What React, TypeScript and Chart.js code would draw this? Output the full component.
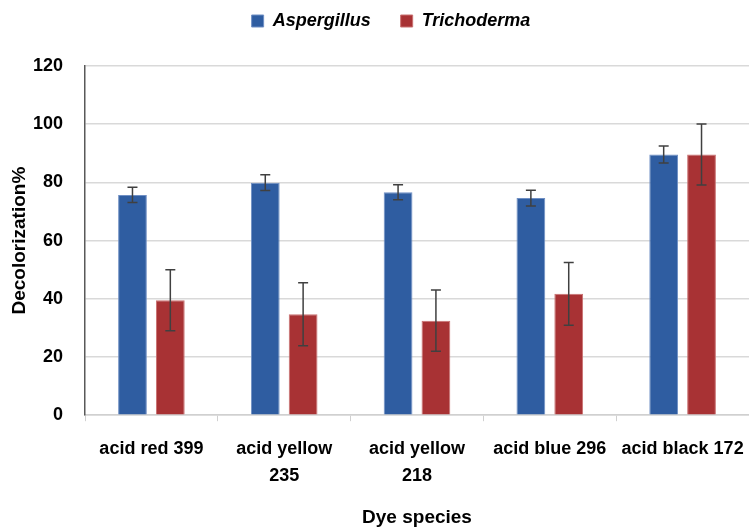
import React, { useEffect, useRef } from "react";
import { Chart, registerables } from "chart.js";

Chart.register(...registerables);

const categories: (string | string[])[] = [
  "acid red 399",
  ["acid yellow", "235"],
  ["acid yellow", "218"],
  "acid blue 296",
  "acid black 172",
];
const aspergillus = [75.7, 79.9, 76.6, 74.6, 89.6];
const aspergillusErr = [2.6, 2.7, 2.6, 2.7, 2.9];
const trichoderma = [39.5, 34.7, 32.5, 41.7, 89.6];
const trichodermaErr = [10.5, 10.8, 10.5, 10.8, 10.5];
const yTicks = [0, 20, 40, 60, 80, 100, 120];

const FONT = "'Liberation Sans', Arial, sans-serif";

const errorBarPlugin = {
  id: "errorBars",
  afterDatasetsDraw(chart: any) {
    const ctx = chart.ctx;
    const yScale = chart.scales.y;
    chart.data.datasets.forEach((ds: any, di: number) => {
      const meta = chart.getDatasetMeta(di);
      const errs: number[] = ds.errors || [];
      meta.data.forEach((bar: any, i: number) => {
        const v = ds.data[i];
        const e = errs[i];
        if (e == null) return;
        const x = bar.x;
        const yTop = yScale.getPixelForValue(v + e);
        const yBot = yScale.getPixelForValue(v - e);
        ctx.save();
        ctx.strokeStyle = "#404040";
        ctx.lineWidth = 1.5;
        ctx.beginPath();
        ctx.moveTo(x, yTop);
        ctx.lineTo(x, yBot);
        ctx.moveTo(x - 5, yTop);
        ctx.lineTo(x + 5, yTop);
        ctx.moveTo(x - 5, yBot);
        ctx.lineTo(x + 5, yBot);
        ctx.stroke();
        ctx.restore();
      });
    });
  },
};

export default function App() {
  const ref = useRef<HTMLCanvasElement>(null);
  useEffect(() => {
    if (!ref.current) return;
    const chart = new Chart(ref.current, {
      type: "bar",
      data: {
        labels: categories,
        datasets: [
          {
            label: "Aspergillus",
            data: aspergillus,
            errors: aspergillusErr,
            backgroundColor: "#2F5DA1",
            borderColor: "#6F8FC4",
            borderWidth: 1,
            categoryPercentage: 0.57,
            barPercentage: 0.76,
          } as any,
          {
            label: "Trichoderma",
            data: trichoderma,
            errors: trichodermaErr,
            backgroundColor: "#A83234",
            borderColor: "#C97070",
            borderWidth: 1,
            categoryPercentage: 0.57,
            barPercentage: 0.76,
          } as any,
        ],
      },
      options: {
        animation: false,
        responsive: false,
        maintainAspectRatio: false,
        layout: { padding: { left: 33, right: 0, top: -18, bottom: 0 } },
        plugins: {
          tooltip: { enabled: false },
          legend: {
            position: "top",
            weight: 3000,
            labels: {
              boxWidth: 12,
              boxHeight: 12,
              padding: 30,
              color: "#000",
              font: { family: FONT, size: 18, weight: "bold", style: "italic" },
            },
          },
          title: {
            display: true,
            text: " ",
            position: "top",
            font: { size: 10, lineHeight: 1.2 },
            padding: { top: 7, bottom: 7 },
          },
        },
        scales: {
          x: {
            offset: true,
            afterFit: (axis: any) => {
              axis.paddingLeft = 0;
              axis.paddingRight = 0;
            },
            grid: {
              offset: true,
              drawOnChartArea: false,
              drawTicks: true,
              tickLength: 6,
              color: "#d0d0d0",
            },
            border: { color: "#d0d0d0", width: 1.5 },
            ticks: {
              color: "#000",
              padding: 14,
              maxRotation: 0,
              autoSkip: false,
              font: { family: FONT, size: 18, weight: "bold", lineHeight: 1.5 },
            },
            title: {
              display: true,
              text: "Dye species",
              color: "#000",
              padding: { top: 3, bottom: 0 },
              font: { family: FONT, size: 19, weight: "bold", lineHeight: 1.2 },
            },
          },
          y: {
            min: 0,
            max: 120,
            afterBuildTicks: (axis: any) => {
              axis.ticks = yTicks.map((v) => ({ value: v }));
            },
            afterFit: (axis: any) => {
              axis.width = 52;
            },
            grid: { color: "#d9d9d9", lineWidth: 1.5, drawTicks: false },
            border: { color: "#595959", width: 1.5 },
            ticks: {
              color: "#000",
              padding: 22,
              font: { family: FONT, size: 18, weight: "bold" },
            },
            title: {
              display: true,
              text: "Decolorization%",
              color: "#000",
              padding: { top: -24.4, bottom: 0 },
              font: { family: FONT, size: 19, weight: "bold", lineHeight: 1.2 },
            },
          },
        },
      } as any,
      plugins: [errorBarPlugin],
    });
    return () => chart.destroy();
  }, []);
  return (
    <div style={{ position: "fixed", left: 0, top: 0, width: 749, height: 529, background: "#fff" }}>
      <canvas ref={ref} width={749} height={529} style={{ width: 749, height: 529 }} />
    </div>
  );
}
